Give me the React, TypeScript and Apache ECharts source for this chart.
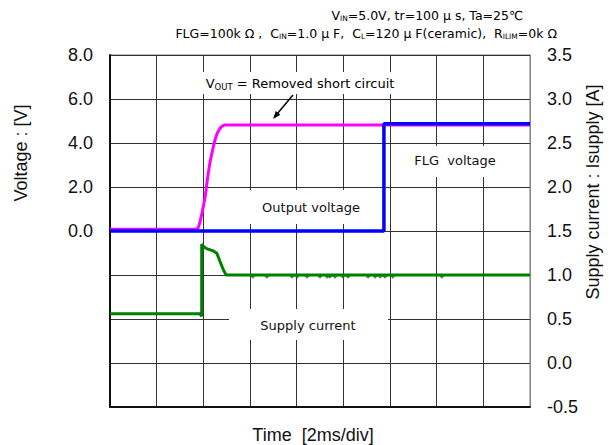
import React, { useEffect, useRef } from "react";
import * as echarts from "echarts";

// Time in divisions (2 ms/div), voltage in V, current in A
const outputVoltage: [number, number][] = [
  [0, 0.08], [1.85, 0.08], [1.89, 0.14], [1.93, 0.42], [1.98, 0.9], [2.04, 1.56],
  [2.09, 2.4], [2.14, 3.09], [2.2, 3.7], [2.25, 4.14], [2.3, 4.45], [2.36, 4.68],
  [2.41, 4.78], [2.46, 4.82], [9, 4.82],
];
const flgVoltage: [number, number][] = [
  [0, 0], [5.87, 0], [5.87, 4.87], [9, 4.87],
];
const supplyCurrent: [number, number][] = [
  [0, 0.56], [1.93, 0.56], [1.96, 0.53], [1.965, 0.56], [1.965, 1.35], [1.99, 1.33],
  [2.07, 1.3], [2.21, 1.275], [2.29, 1.246], [2.36, 1.15], [2.43, 1.057], [2.49, 1.0],
  [9, 1.0],
];
const currentSpikeTimes = [3.06, 3.36, 3.9, 4.01, 4.22, 4.5, 4.65, 4.71, 4.82, 4.99, 5.1, 5.53, 5.68, 5.79, 5.89, 6.06, 7.11];
const currentSpikeLevel = 0.985;

const voltageTicks = { min: -8, max: 8, interval: 2 };
const currentTicks = { min: -0.5, max: 3.5, interval: 0.5 };
const timeTicks = { min: 0, max: 9, interval: 1 };

const LABEL_FONT = "'Liberation Sans', Arial, sans-serif";
const NOTE_FONT = "'DejaVu Sans', 'Noto Sans', sans-serif";

export default function App() {
  const ref = useRef<HTMLDivElement>(null);
  useEffect(() => {
    document.body.style.margin = "0";
    if (!ref.current) return;
    const chart = echarts.init(ref.current, null, { renderer: "svg" });
    const subRich = {
      n: { fontSize: 12.5, fontFamily: NOTE_FONT, color: "#111", lineHeight: 15 },
      s: { fontSize: 7.5, fontFamily: NOTE_FONT, color: "#111", lineHeight: 15, verticalAlign: "bottom" },
    };
    const noteRich = {
      n: { fontSize: 13, fontFamily: NOTE_FONT, color: "#111", lineHeight: 16 },
      s: { fontSize: 8.5, fontFamily: NOTE_FONT, color: "#111", lineHeight: 16, verticalAlign: "bottom" },
    };
    const whiteBox = (x: number, y: number, w: number, h: number) => ({
      type: "rect", shape: { x, y, width: w, height: h }, style: { fill: "#fff" }, z: 5,
    });
    const note = (x: number, y: number, text: string) => ({
      type: "text", x, y, z: 6,
      style: { text, align: "center", verticalAlign: "middle", fontSize: 13, fontFamily: NOTE_FONT, fill: "#111" },
    });
    const title = (x: number, y: number, text: string, rotate: boolean) => ({
      type: "text", x, y, rotation: rotate ? Math.PI / 2 : 0,
      style: { text, align: "center", verticalAlign: "middle", fontSize: 18, fontFamily: LABEL_FONT, fill: "#111" },
    });
    chart.setOption({
      animation: false,
      backgroundColor: "#fff",
      grid: { left: 110, right: 81, top: 55, bottom: 38, show: true, borderColor: "#777", borderWidth: 1 },
      xAxis: {
        type: "value", ...timeTicks,
        axisLabel: { show: false }, axisTick: { show: false },
        axisLine: { show: true, onZero: false, lineStyle: { color: "#111", width: 2 } },
        splitLine: { show: true, lineStyle: { color: "#333", width: 1 } },
      },
      yAxis: [
        {
          type: "value", ...voltageTicks, position: "left",
          axisLine: { show: true, onZero: false, lineStyle: { color: "#111", width: 2 } },
          axisTick: { show: false },
          splitLine: { show: true, lineStyle: { color: "#333", width: 1 } },
          axisLabel: {
            margin: 17, fontSize: 18, fontFamily: LABEL_FONT, color: "#111",
            formatter: (v: number) => (v >= 0 ? v.toFixed(1) : ""),
          },
        },
        {
          type: "value", ...currentTicks, position: "right",
          axisLine: { show: true, onZero: false, lineStyle: { color: "#888", width: 1 } },
          axisTick: { show: false },
          splitLine: { show: false },
          axisLabel: {
            margin: 17, fontSize: 18, fontFamily: LABEL_FONT, color: "#111",
            formatter: (v: number) => v.toFixed(1),
          },
        },
      ],
      series: [
        {
          name: "Output voltage", type: "line", yAxisIndex: 0, data: outputVoltage,
          showSymbol: false, lineStyle: { color: "#ff00ff", width: 3 }, z: 3,
        },
        {
          name: "FLG voltage", type: "line", yAxisIndex: 0, data: flgVoltage,
          showSymbol: false, lineStyle: { color: "#0000ff", width: 3.5 }, z: 4,
        },
        {
          name: "Supply current", type: "line", yAxisIndex: 1, data: supplyCurrent,
          showSymbol: false, lineStyle: { color: "#008000", width: 3 }, z: 4,
        },
        {
          name: "Supply current spikes", type: "scatter", yAxisIndex: 1,
          data: currentSpikeTimes.map((t) => [t, currentSpikeLevel]),
          symbol: "diamond", symbolSize: 5, itemStyle: { color: "#008000" }, z: 4,
        },
      ],
      graphic: [
        {
          type: "text", x: 523, y: 15,
          style: { text: "{n|V}{s|IN}{n|=5.0V, tr=100 μ s, Ta=25℃}", align: "right", verticalAlign: "middle", rich: subRich },
        },
        {
          type: "text", x: 557, y: 33,
          style: {
            text: "{n|FLG=100k Ω ,  C}{s|IN}{n|=1.0 μ F,  C}{s|L}{n|=120 μ F(ceramic),  R}{s|ILIM}{n|=0k Ω}",
            align: "right", verticalAlign: "middle", rich: subRich,
          },
        },
        whiteBox(200, 72, 200, 22),
        {
          type: "text", x: 300, y: 83, z: 6,
          style: { text: "{n|V}{s|OUT}{n| = Removed short circuit}", align: "center", verticalAlign: "middle", rich: noteRich },
        },
        { type: "line", z: 6, shape: { x1: 293, y1: 95, x2: 277, y2: 114 }, style: { stroke: "#000", lineWidth: 1.5 } },
        { type: "polygon", z: 6, shape: { points: [[273, 119], [280.4, 114.8], [275.8, 111.0]] }, style: { fill: "#000" } },
        whiteBox(250, 190, 132, 34),
        note(311, 207, "Output voltage"),
        whiteBox(398, 146, 122, 31),
        note(455, 160, "FLG  voltage"),
        whiteBox(229, 309, 159, 31),
        note(308, 325, "Supply current"),
        title(21, 153, "Voltage : [V]", true),
        title(593, 192, "Supply current : Isupply [A]", true),
        title(313, 435, "Time  [2ms/div]", false),
      ],
    });
    return () => chart.dispose();
  }, []);
  return <div ref={ref} style={{ width: 611, height: 445 }} />;
}
